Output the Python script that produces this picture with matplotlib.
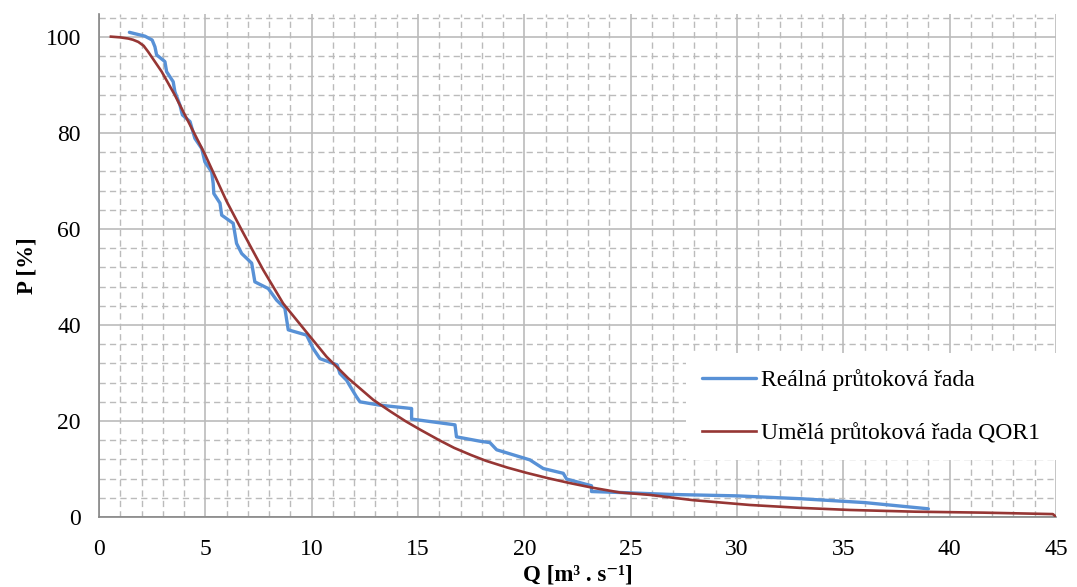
import matplotlib
matplotlib.use("Agg")
import matplotlib.pyplot as plt

plt.rcParams['font.family'] = ['Liberation Serif', 'DejaVu Serif']

# real discharge series (blue)
q_real = [1.43, 2.16, 2.5, 2.63, 2.71, 3.1, 3.18, 3.49, 3.57, 3.81, 3.92, 4.28,
          4.51, 4.83, 4.98, 5.3, 5.37, 5.4, 5.69, 5.77, 6.31, 6.47, 6.71, 7.18,
          7.33, 7.96, 8.35, 8.74, 8.9, 9.76, 10.07, 10.39, 11.2, 11.33, 11.64,
          12.1, 12.27, 13.2, 14.7, 14.7, 16.74, 16.81, 17.9, 18.38, 18.7, 20.26,
          20.89, 21.83, 21.99, 23.16, 23.16, 24.5, 26.85, 30.0, 33.0, 36.0, 39.0]
p_real = [101.0, 100.2, 99.4, 98.0, 96.3, 94.9, 92.8, 90.7, 88.6, 85.8, 83.8, 82.4,
          78.9, 76.8, 74.0, 71.9, 69.5, 67.4, 65.4, 62.9, 61.2, 57.0, 54.9, 52.9,
          49.0, 47.6, 45.2, 43.5, 39.0, 37.9, 35.1, 33.0, 31.7, 29.9, 28.5,
          25.1, 24.0, 23.3, 22.6, 20.4, 19.2, 16.7, 15.8, 15.5, 14.0, 11.9,
          10.1, 9.1, 7.9, 6.5, 5.3, 5.1, 4.7, 4.4, 3.8, 3.0, 1.7]

# artificial series QOR1 (red)
q_art = [0.56, 1.0, 1.38, 1.6, 1.85, 2.1, 2.32, 2.95, 3.57, 4.36, 4.98, 5.5, 6.0,
         6.71, 7.72, 8.66, 9.76, 10.7, 11.72, 12.9, 13.7, 14.4, 15.1, 16.0, 16.7,
         17.5, 18.2, 19.2, 20.1, 21.1, 22.1, 23.2, 24.5, 25.9, 27.94, 30.6, 32.96,
         35.3, 38.4, 41.6, 44.85, 45.0]
p_art = [100.1, 99.95, 99.7, 99.45, 99.0, 98.2, 96.9, 92.8, 87.9, 81.0, 75.6, 70.6,
         65.8, 59.8, 51.5, 44.5, 38.5, 33.4, 28.9, 24.4, 22.0, 20.0, 18.2, 16.0, 14.4,
         12.9, 11.7, 10.3, 9.2, 8.1, 7.1, 6.1, 5.1, 4.6, 3.5, 2.5, 1.9,
         1.46, 1.1, 0.9, 0.6, 0.05]

fig = plt.figure(figsize=(10.77, 5.87), dpi=100)
ax = fig.add_axes([0.0919, 0.1193, 0.8886, 0.8567])

ax.plot(q_real, p_real, color='#5891D6', lw=2.4, label='Reálná průtoková řada',
        solid_joinstyle='round', solid_capstyle='round', zorder=3)
ax.plot(q_art, p_art, color='#963634', lw=1.9, label='Umělá průtoková řada QOR1',
        solid_joinstyle='round', zorder=4)

ax.set_xlim(0, 45)
ax.set_ylim(0, 104.8)
ax.set_xticks(range(0, 46, 5))
ax.set_xticks(range(0, 46, 1), minor=True)
ax.set_yticks(range(0, 101, 20))
ax.set_yticks(range(0, 105, 4), minor=True)

ax.grid(which='major', color='#BBBBBB', lw=1.2, zorder=0)
ax.grid(which='minor', color='#BBBBBB', lw=1.0, linestyle=(0, (4.5, 3)), zorder=0)
ax.set_axisbelow(True)

for s in ['top', 'right']:
    ax.spines[s].set_visible(False)
for s in ['left', 'bottom']:
    ax.spines[s].set_color('#868686')
    ax.spines[s].set_linewidth(1.2)

ax.tick_params(which='both', length=0)
ax.tick_params(axis='x', labelsize=17, pad=16)
ax.tick_params(axis='y', labelsize=17, pad=13)

ax.set_xlabel('Q [m³ . s⁻¹]', fontsize=16.5, fontweight='bold', labelpad=3)
ax.set_ylabel('P [%]', fontsize=16.5, fontweight='bold', labelpad=6)

leg = ax.legend(loc='lower right', bbox_to_anchor=(1.0, 0.113), fontsize=17,
                frameon=True, fancybox=False, framealpha=1, edgecolor='none',
                facecolor='white', handlelength=2.3, labelspacing=1.33,
                handletextpad=0.2, borderpad=0.67, borderaxespad=0)

fig.savefig('out.png', dpi=100)
